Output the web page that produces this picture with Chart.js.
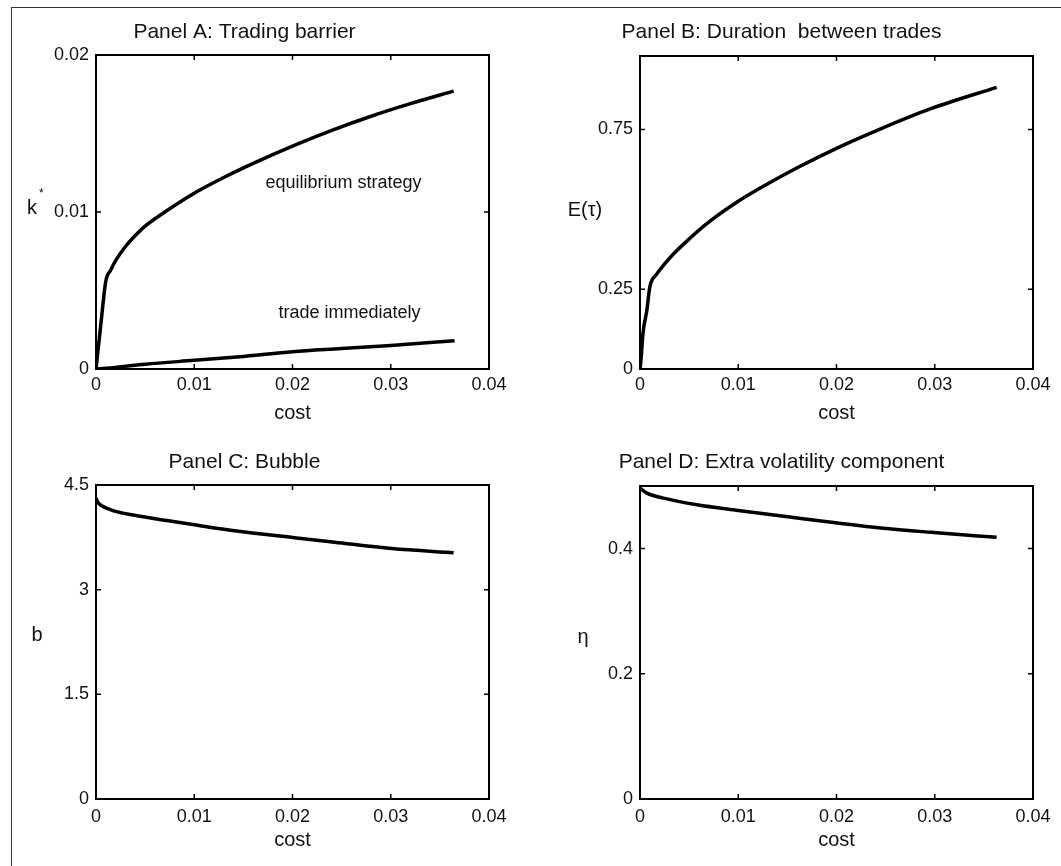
<!DOCTYPE html>
<html>
<head>
<meta charset="utf-8">
<title>Trading barrier, duration, bubble and extra volatility</title>
<script src="https://cdn.jsdelivr.net/npm/chart.js@4.4.1/dist/chart.umd.min.js"></script>
<style>
    html, body { margin: 0; padding: 0; background: #fff; }
    #page { position: relative; width: 1061px; height: 866px; overflow: hidden; }
    #frame { position: absolute; left: 11px; top: 7px; right: -2px; bottom: -2px;
             border-left: 1px solid #333; border-top: 1px solid #333; }
    canvas { position: absolute; }
</style>
</head>
<body>
<div id="page">
    <div id="frame"></div>
    <canvas id="panelA" width="530" height="430" style="left:0;top:0"></canvas>
    <canvas id="panelB" width="530" height="430" style="left:530px;top:0"></canvas>
    <canvas id="panelC" width="530" height="430" style="left:0;top:430px"></canvas>
    <canvas id="panelD" width="530" height="430" style="left:530px;top:430px"></canvas>
</div>
<script>
// x axis (cost) shared by all panels
const xTicks = [0, 0.01, 0.02, 0.03, 0.04];
const xTickLabels = ['0', '0.01', '0.02', '0.03', '0.04'];

// Panel A: trading barrier k*
const costEquil = [0, 0.0005, 0.001, 0.0015, 0.002, 0.003, 0.004, 0.005, 0.007, 0.01, 0.013, 0.016, 0.02, 0.024, 0.028, 0.032, 0.0364];
const kEquil = [0, 0.0029, 0.0056, 0.0063, 0.0069, 0.0078, 0.0085, 0.0091, 0.0100, 0.0112, 0.0122, 0.0131, 0.0142, 0.0152, 0.0161, 0.0169, 0.0177];
const costImmediate = [0, 0.002, 0.005, 0.01, 0.015, 0.02, 0.025, 0.03, 0.0365];
const kImmediate = [0, 0.0001, 0.0003, 0.00055, 0.0008, 0.0011, 0.0013, 0.0015, 0.0018];
const yTicksA = [0, 0.01, 0.02];
const yTickLabelsA = ['0', '0.01', '0.02'];

// Panel B: expected duration between trades E(tau)
const costB = [0, 0.0001, 0.0003, 0.0007, 0.001, 0.0017, 0.0024, 0.0034, 0.005, 0.0068, 0.01, 0.0126, 0.016, 0.02, 0.0245, 0.0296, 0.0363];
const durationB = [0, 0.027, 0.111, 0.184, 0.257, 0.297, 0.325, 0.360, 0.407, 0.455, 0.525, 0.573, 0.630, 0.691, 0.752, 0.815, 0.882];
const yTicksB = [0, 0.25, 0.75];
const yTickLabelsB = ['0', '0.25', '0.75'];

// Panel C: bubble b
const costC = [0, 0.0002, 0.00075, 0.0018, 0.0038, 0.0072, 0.01, 0.0141, 0.0202, 0.0243, 0.0301, 0.0364];
const bubbleC = [4.31, 4.25, 4.19, 4.13, 4.07, 3.99, 3.93, 3.845, 3.745, 3.68, 3.59, 3.53];
const yTicksC = [0, 1.5, 3, 4.5];
const yTickLabelsC = ['0', '1.5', '3', '4.5'];

// Panel D: extra volatility component eta
const costD = [0, 0.0007, 0.0024, 0.0058, 0.01, 0.016, 0.0201, 0.0245, 0.0296, 0.0363];
const etaD = [0.4966, 0.4886, 0.4806, 0.470, 0.461, 0.449, 0.441, 0.433, 0.426, 0.418];
const yTicksD = [0, 0.2, 0.4];
const yTickLabelsD = ['0', '0.2', '0.4'];

const FONT = '"Liberation Sans", Arial, Helvetica, sans-serif';

function toPoints(xs, ys) {
    return xs.map((x, i) => ({ x: x, y: ys[i] }));
}

function lineSet(points) {
    return {
        data: points,
        borderColor: '#000',
        borderWidth: 3.5,
        pointRadius: 0,
        fill: false,
        cubicInterpolationMode: 'monotone'
    };
}

// box around the plot with inward ticks, horizontal y label, text notes
const matlabBox = {
    id: 'matlabBox',
    afterDraw(chart, args, opts) {
        const { ctx, chartArea: a, scales: { x, y } } = chart;
        ctx.save();
        ctx.strokeStyle = '#000';
        ctx.lineWidth = 2;
        ctx.strokeRect(a.left, a.top, a.width, a.height);

        ctx.lineWidth = 1.5;
        ctx.beginPath();
        x.ticks.forEach(t => {
            const px = x.getPixelForValue(t.value);
            ctx.moveTo(px, a.bottom); ctx.lineTo(px, a.bottom - 5);
            ctx.moveTo(px, a.top); ctx.lineTo(px, a.top + 5);
        });
        y.ticks.forEach(t => {
            const py = y.getPixelForValue(t.value);
            ctx.moveTo(a.left, py); ctx.lineTo(a.left + 5, py);
            ctx.moveTo(a.right, py); ctx.lineTo(a.right - 5, py);
        });
        ctx.stroke();

        // y axis label, written horizontally like the original
        ctx.fillStyle = '#111';
        ctx.font = '20px ' + FONT;
        ctx.textAlign = 'center';
        ctx.textBaseline = 'middle';
        const lx = a.left + opts.labelDx;
        const ly = (a.top + a.bottom) / 2 + opts.labelDy;
        ctx.fillText(opts.label, lx, ly);
        if (opts.sup) {
            const w = ctx.measureText(opts.label).width;
            ctx.font = '12px ' + FONT;
            ctx.textAlign = 'left';
            ctx.fillText(opts.sup, lx + w / 2 + 2, ly - 14);
        }

        // notes placed in data coordinates
        ctx.font = '18px ' + FONT;
        ctx.textAlign = 'center';
        (opts.notes || []).forEach(n => {
            ctx.fillText(n.text, x.getPixelForValue(n.x), y.getPixelForValue(n.y));
        });
        ctx.restore();
    }
};

function makePanel(id, cfg) {
    const yWidth = cfg.yWidth;
    new Chart(document.getElementById(id), {
        type: 'line',
        data: { datasets: cfg.datasets },
        options: {
            responsive: false,
            animation: false,
            devicePixelRatio: 1,
            layout: { padding: { left: 0, right: cfg.padRight, top: 0, bottom: 0 } },
            scales: {
                x: {
                    type: 'linear',
                    min: 0,
                    max: 0.04,
                    afterBuildTicks: axis => { axis.ticks = xTicks.map(v => ({ value: v })); },
                    afterFit: scale => { scale.height = 61; },
                    grid: { display: false, drawTicks: false },
                    border: { display: false },
                    ticks: {
                        padding: cfg.xTickPad,
                        maxRotation: 0,
                        color: '#111',
                        font: { family: FONT, size: 18 },
                        callback: v => xTickLabels[xTicks.indexOf(v)]
                    },
                    title: {
                        display: true,
                        text: 'cost',
                        color: '#111',
                        font: { family: FONT, size: 20 },
                        padding: { top: 0, bottom: cfg.costPad }
                    }
                },
                y: {
                    type: 'linear',
                    min: 0,
                    max: cfg.yMax,
                    afterBuildTicks: axis => { axis.ticks = cfg.yTicks.map(v => ({ value: v })); },
                    afterFit: scale => { scale.width = yWidth; },
                    grid: { display: false, drawTicks: false },
                    border: { display: false },
                    ticks: {
                        padding: 7,
                        color: '#111',
                        font: { family: FONT, size: 18 },
                        callback: v => cfg.yTickLabels[cfg.yTicks.indexOf(v)]
                    }
                }
            },
            plugins: {
                legend: { display: false },
                tooltip: { enabled: false },
                title: {
                    display: true,
                    text: cfg.title,
                    color: '#111',
                    font: { family: FONT, size: 21, weight: 'normal' },
                    padding: { top: 20, bottom: cfg.titlePadBottom }
                },
                matlabBox: cfg.box
            }
        },
        plugins: [matlabBox]
    });
}

makePanel('panelA', {
    title: 'Panel A: Trading barrier',
    datasets: [lineSet(toPoints(costEquil, kEquil)), lineSet(toPoints(costImmediate, kImmediate))],
    yTicks: yTicksA, yTickLabels: yTickLabelsA, yMax: 0.02,
    yWidth: 96, padRight: 41, titlePadBottom: 9.8, xTickPad: 5, costPad: 5,
    box: {
        label: 'k', sup: '*', labelDx: -64, labelDy: -4,
        notes: [
            { text: 'equilibrium strategy', x: 0.0252, y: 0.01184 },
            { text: 'trade immediately', x: 0.0258, y: 0.00355 }
        ]
    }
});

makePanel('panelB', {
    title: 'Panel B: Duration  between trades',
    datasets: [lineSet(toPoints(costB, durationB))],
    yTicks: yTicksB, yTickLabels: yTickLabelsB, yMax: 0.98,
    yWidth: 110, padRight: 27, titlePadBottom: 10.8, xTickPad: 5, costPad: 5,
    box: { label: 'E(\u03C4)', labelDx: -55, labelDy: -2 }
});

makePanel('panelC', {
    title: 'Panel C: Bubble',
    datasets: [lineSet(toPoints(costC, bubbleC))],
    yTicks: yTicksC, yTickLabels: yTickLabelsC, yMax: 4.5,
    yWidth: 96, padRight: 41, titlePadBottom: 9.8, xTickPad: 7, costPad: 8,
    box: { label: 'b', labelDx: -59, labelDy: -7 }
});

makePanel('panelD', {
    title: 'Panel D: Extra volatility component',
    datasets: [lineSet(toPoints(costD, etaD))],
    yTicks: yTicksD, yTickLabels: yTickLabelsD, yMax: 0.5,
    yWidth: 110, padRight: 27, titlePadBottom: 10.8, xTickPad: 7, costPad: 8,
    box: { label: '\u03B7', labelDx: -57, labelDy: -5 }
});
</script>
</body>
</html>
